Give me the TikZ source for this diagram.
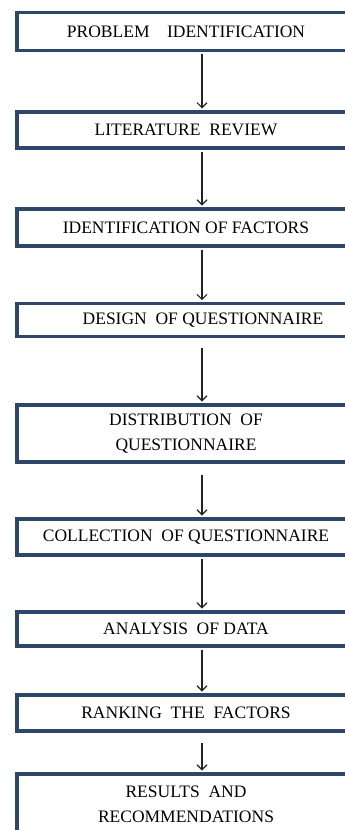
\documentclass[tikz,border=0pt]{standalone}
\usepackage{fontspec}
\setmainfont{Liberation Serif}
\usetikzlibrary{arrows.meta}
\definecolor{boxblue}{RGB}{46,70,104}
\definecolor{arrowgray}{RGB}{35,35,35}

\begin{document}
\begin{tikzpicture}[x=1pt, y=-1pt,
    stage/.style={draw=boxblue, line width=3.5pt, fill=white, minimum width=338pt,
        inner sep=0pt, align=center, text=black, font=\fontsize{17.5}{24.5}\selectfont},
    flow/.style={arrowgray, line width=1.1pt, shorten >=1.75pt, shorten <=1.75pt,
        -{Straight Barb[length=5pt,width=10pt]}}]
    % Page frame (boxes run past the right and bottom edges)
    \useasboundingbox (0,0) rectangle (345,830);
    \clip (0,0) rectangle (345,830);

    % Stages
    \node[stage, minimum height=38pt] (problem) at (186,31.7) {PROBLEM~~~~IDENTIFICATION};
    \node[stage, minimum height=36pt] (review) at (186,130) {LITERATURE~~REVIEW};
    \node[stage, minimum height=37pt] (factors) at (186,227.5) {IDENTIFICATION OF FACTORS};
    \node[stage, minimum height=32.6pt] (design) at (186,320) {\hspace*{34pt}DESIGN~~OF QUESTIONNAIRE};
    \node[stage, minimum height=57pt] (distrib) at (186,433.5) {DISTRIBUTION~~OF\\QUESTIONNAIRE};
    \node[stage, minimum height=36pt] (collect) at (186,537) {COLLECTION~~OF QUESTIONNAIRE};
    \node[stage, minimum height=34pt] (analysis) at (186,629) {ANALYSIS~~OF DATA};
    \node[stage, minimum height=36pt] (ranking) at (186,713) {RANKING~~THE~~FACTORS};
    \node[stage, minimum height=61pt] (results) at (186,804.5) {RESULTS~~AND\\RECOMMENDATIONS};

    % Arrows
    \draw[flow] ([xshift=16pt]problem.south) -- ([xshift=16pt]review.north);
    \draw[flow] ([xshift=16pt]review.south) -- ([xshift=16pt]factors.north);
    \draw[flow] ([xshift=16pt]factors.south) -- ([xshift=16pt]design.north);
    \draw[flow, shorten <=10pt] ([xshift=16pt]design.south) -- ([xshift=16pt]distrib.north);
    \draw[flow, shorten <=11pt] ([xshift=16pt]distrib.south) -- ([xshift=16pt]collect.north);
    \draw[flow] ([xshift=16pt]collect.south) -- ([xshift=16pt]analysis.north);
    \draw[flow] ([xshift=16pt]analysis.south) -- ([xshift=16pt]ranking.north);
    \draw[flow, shorten <=10pt] ([xshift=16pt]ranking.south) -- ([xshift=16pt]results.north);
\end{tikzpicture}
\end{document}
